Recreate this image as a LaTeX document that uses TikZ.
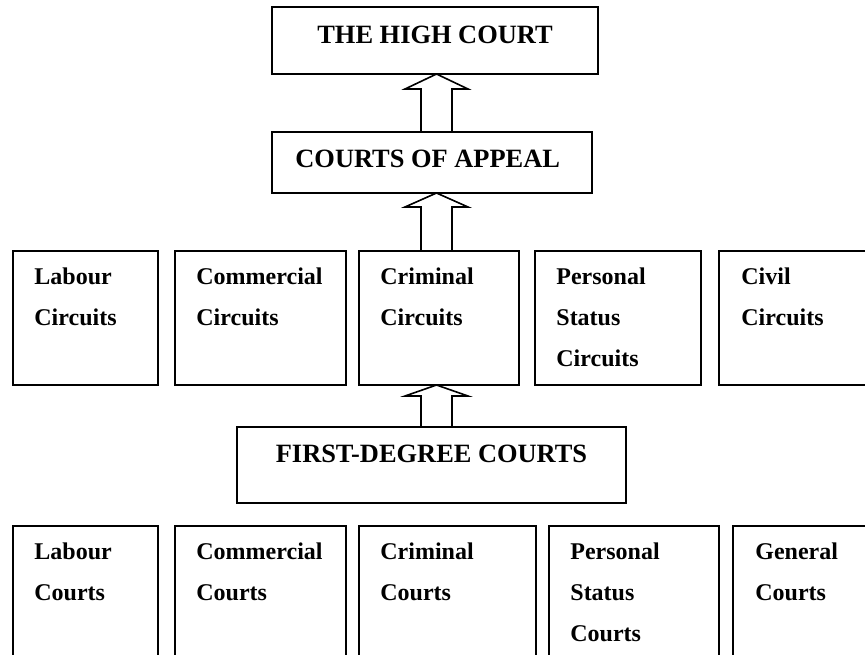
\documentclass[tikz,border=0pt]{standalone}
\usepackage{fontspec}
\setmainfont{Liberation Serif}
\usetikzlibrary{calc}
\begin{document}
\begin{tikzpicture}[x=0.5pt,y=-0.5pt,
  box/.style 2 args={draw, line width=1pt, rectangle, inner sep=0pt, outer sep=0pt, anchor=north west,
    minimum width=#1*0.5pt, minimum height=#2*0.5pt},
  txt/.style={anchor=base west, inner sep=0pt, font=\bfseries\fontsize{12}{20.5}\selectfont},
  ttl/.style={inner sep=0pt, font=\bfseries\fontsize{13.2}{16}\selectfont},
  blk/.style={draw, line width=0.8pt, fill=white, line join=miter}]
\useasboundingbox (0,0) rectangle (865,654);
\clip (0,0) rectangle (865,654);
% top boxes
\node[box={326}{67}] (hc) at (272,7) {};
\node[ttl, anchor=base] (hcT) at ($(hc.north)+(0,36)$) {THE HIGH COURT};
\node[box={320}{61}] (coa) at (272,132) {};
\node[ttl, anchor=base west] (coaT) at ($(coa.north west)+(23,35)$) {COURTS OF APPEAL};
% circuits row
\node[box={145}{134}] (lc) at (13,251) {};
\node[box={171}{134}] (cc) at (175,251) {};
\node[box={160}{134}] (crc) at (359,251) {};
\node[box={166}{134}] (pc) at (535,251) {};
\node[box={160}{134}] (vc) at (719,251) {};
\node[txt] (lcT) at ($(lc.north west)+(21,33)$) {\parbox[t]{140pt}{Labour\\Circuits}};
\node[txt] (ccT) at ($(cc.north west)+(21,33)$) {\parbox[t]{140pt}{Commercial\\Circuits}};
\node[txt] (crcT) at ($(crc.north west)+(21,33)$) {\parbox[t]{140pt}{Criminal\\Circuits}};
\node[txt] (pcT) at ($(pc.north west)+(21,33)$) {\parbox[t]{140pt}{Personal\\Status\\Circuits}};
\node[txt] (vcT) at ($(vc.north west)+(22,33)$) {\parbox[t]{140pt}{Civil\\Circuits}};
% first degree
\node[box={389}{76}] (fd) at (237,427) {};
\node[ttl, anchor=base] (fdT) at ($(fd.north)+(0,35)$) {FIRST-DEGREE COURTS};
% courts row
\node[box={145}{160}] (lk) at (13,526) {};
\node[box={171}{160}] (ck) at (175,526) {};
\node[box={177}{160}] (crk) at (359,526) {};
\node[box={170}{160}] (pk) at (549,526) {};
\node[box={160}{160}] (gk) at (733,526) {};
\node[txt] (lkT) at ($(lk.north west)+(21,33)$) {\parbox[t]{140pt}{Labour\\Courts}};
\node[txt] (ckT) at ($(ck.north west)+(21,33)$) {\parbox[t]{140pt}{Commercial\\Courts}};
\node[txt] (crkT) at ($(crk.north west)+(21,33)$) {\parbox[t]{140pt}{Criminal\\Courts}};
\node[txt] (pkT) at ($(pk.north west)+(21,33)$) {\parbox[t]{140pt}{Personal\\Status\\Courts}};
\node[txt] (gkT) at ($(gk.north west)+(22,33)$) {\parbox[t]{140pt}{General\\Courts}};
% block arrows
\draw[blk] (436.5,0 |- hc.south) -- ++(31.5,15) -- ++(-16,0) -- (452,0 |- coa.north)
  -- (421,0 |- coa.north) -- ($(421,0 |- hc.south)+(0,15)$) -- ++(-16,0) -- cycle;
\draw[blk] (436.5,0 |- coa.south) -- ++(31.5,14) -- ++(-16,0) -- (452,0 |- crc.north)
  -- (421,0 |- crc.north) -- ($(421,0 |- coa.south)+(0,14)$) -- ++(-16,0) -- cycle;
\draw[blk] (436.5,0 |- crc.south) -- ++(31.5,11) -- ++(-16,0) -- (452,0 |- fd.north)
  -- (421,0 |- fd.north) -- ($(421,0 |- crc.south)+(0,11)$) -- ++(-16,0) -- cycle;
\end{tikzpicture}
\end{document}
